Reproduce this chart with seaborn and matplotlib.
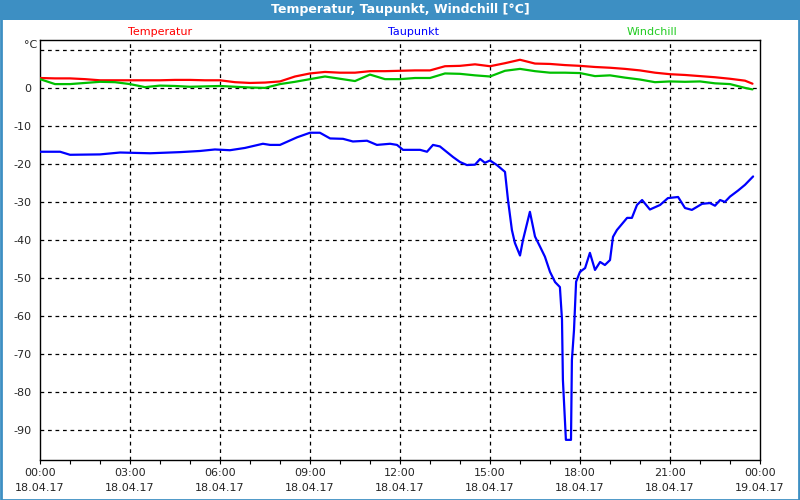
import numpy as np
import pandas as pd
import matplotlib
matplotlib.use("Agg")
import matplotlib.pyplot as plt
from matplotlib.patches import Rectangle
from matplotlib.ticker import MultipleLocator, FixedLocator
import seaborn as sns

# ---------------- data ----------------
title = "Temperatur, Taupunkt, Windchill [°C]"
series_names = ["Temperatur", "Taupunkt", "Windchill"]
series_colors = ["#ff0000", "#0000ff", "#00c000"]
legend_colors = ["#ff0000", "#0000ff", "#22cc22"]

# hours since 18.04.17 00:00 (half-hour readings, last at 23:45)
hours_tw = [0, 0.5, 1, 1.5, 2, 2.5, 3, 3.5, 4, 4.5, 5, 5.5, 6, 6.5, 7, 7.5,
            8, 8.5, 9, 9.5, 10, 10.5, 11, 11.5, 12, 12.5, 13, 13.5, 14, 14.5,
            15, 15.5, 16, 16.5, 17, 17.5, 18, 18.5, 19, 19.5, 20, 20.5, 21,
            21.5, 22, 22.5, 23, 23.5, 23.75]
temperatur = [2.6, 2.5, 2.5, 2.3, 2.0, 2.0, 2.0, 2.0, 2.0, 2.1, 2.1, 2.0, 2.0,
              1.5, 1.3, 1.4, 1.7, 3.0, 3.8, 4.2, 4.0, 4.0, 4.4, 4.4, 4.5, 4.6,
              4.6, 5.7, 5.8, 6.2, 5.7, 6.5, 7.4, 6.4, 6.3, 6.0, 5.8, 5.5, 5.3,
              5.0, 4.6, 4.0, 3.6, 3.4, 3.1, 2.8, 2.4, 1.9, 1.1]
windchill = [2.3, 1.0, 1.0, 1.3, 1.6, 1.5, 1.0, 0.2, 0.6, 0.5, 0.3, 0.4, 0.5,
             0.3, 0.1, 0.0, 1.0, 1.6, 2.3, 3.0, 2.4, 1.8, 3.5, 2.3, 2.3, 2.6,
             2.6, 3.8, 3.7, 3.3, 3.0, 4.5, 5.0, 4.4, 4.0, 4.0, 3.9, 3.1, 3.3,
             2.7, 2.2, 1.5, 1.7, 1.6, 1.7, 1.2, 1.0, 0.0, -0.4]

hours_tp = [0, 0.67, 1.0, 2.0, 2.67, 3.67, 4.67, 5.33, 5.83, 6.33, 6.83, 7.43,
            7.67, 8.0, 8.57, 9.0, 9.33, 9.67, 10.1, 10.43, 10.9, 11.23, 11.67,
            11.9, 12.1, 12.67, 12.9, 13.1, 13.33, 13.77, 14.0, 14.23, 14.5,
            14.67, 14.83, 15.0, 15.23, 15.5, 15.6, 15.73, 15.83, 16.0, 16.1,
            16.33, 16.5, 16.67, 16.83, 17.0, 17.17, 17.33, 17.4, 17.43, 17.53,
            17.7, 17.73, 17.8, 17.87, 18.0, 18.17, 18.33, 18.5, 18.67, 18.83,
            19.0, 19.1, 19.23, 19.57, 19.73, 19.9, 20.07, 20.33, 20.67, 20.93,
            21.27, 21.5, 21.73, 22.07, 22.33, 22.5, 22.67, 22.83, 23.0, 23.27,
            23.5, 23.77]
taupunkt = [-16.8, -16.8, -17.6, -17.5, -17.0, -17.2, -16.9, -16.6, -16.2,
            -16.4, -15.8, -14.7, -15.0, -15.0, -13.0, -11.8, -11.8, -13.3,
            -13.4, -14.1, -13.9, -15.0, -14.7, -15.0, -16.3, -16.3, -16.8,
            -15.0, -15.4, -18.2, -19.5, -20.3, -20.2, -18.7, -19.7, -19.1,
            -20.3, -22.1, -29.5, -37.4, -40.8, -44.1, -40.0, -32.6, -39.1,
            -41.8, -44.4, -48.4, -51.1, -52.4, -61.0, -76.8, -92.6, -92.6,
            -71.6, -63.7, -51.0, -48.4, -47.4, -43.4, -47.9, -45.8, -46.6,
            -45.3, -39.2, -37.4, -34.2, -34.2, -30.8, -29.5, -32.0, -30.8,
            -29.0, -28.7, -31.6, -32.1, -30.5, -30.3, -31.0, -29.5, -30.0,
            -28.6, -27.0, -25.5, -23.3]

x_tick_hours = [0, 3, 6, 9, 12, 15, 18, 21, 24]
x_tick_labels = ["00:00\n18.04.17", "03:00\n18.04.17", "06:00\n18.04.17",
                 "09:00\n18.04.17", "12:00\n18.04.17", "15:00\n18.04.17",
                 "18:00\n18.04.17", "21:00\n18.04.17", "00:00\n19.04.17"]
y_ticks = [0, -10, -20, -30, -40, -50, -60, -70, -80, -90]
y_grid = [10, 0, -10, -20, -30, -40, -50, -60, -70, -80, -90]

# ---------------- figure ----------------
sns.set_style("white")
plt.rcParams["font.family"] = ["DejaVu Sans"]

W, H = 800, 500
fig = plt.figure(figsize=(8, 5), dpi=100)
fig.patch.set_facecolor("#ffffff")

frame_blue = "#3d8fc3"
# title bar + window border
fig.patches.append(Rectangle((0, 1 - 20 / H), 1, 20 / H, transform=fig.transFigure,
                             facecolor=frame_blue, edgecolor="none", zorder=0))
fig.patches.append(Rectangle((0.5 / W, 0.5 / H), 1 - 1.5 / W, 1 - 1 / H,
                             transform=fig.transFigure, facecolor="none",
                             edgecolor=frame_blue, linewidth=2.0, zorder=0))
fig.text(0.5, 1 - 10 / H, title, ha="center", va="center", color="white",
         fontsize=9, fontweight="bold")

ax = fig.add_axes([40 / W, 40 / H, 720 / W, 420 / H])
ax.set_facecolor("#ffffff")

df_t = pd.DataFrame({"h": hours_tw, "v": temperatur})
df_w = pd.DataFrame({"h": hours_tw, "v": windchill})
df_p = pd.DataFrame({"h": hours_tp, "v": taupunkt})

sns.lineplot(data=df_t, x="h", y="v", ax=ax, color=series_colors[0], lw=1.6,
             estimator=None, sort=False, zorder=3)
sns.lineplot(data=df_p, x="h", y="v", ax=ax, color=series_colors[1], lw=1.6,
             estimator=None, sort=False, zorder=3)
sns.lineplot(data=df_w, x="h", y="v", ax=ax, color=series_colors[2], lw=1.6,
             estimator=None, sort=False, zorder=4)

ax.set_xlim(0, 24)
ax.set_ylim(-97.9, 12.6)
ax.set_xlabel("")
ax.set_ylabel("")

# grid lines
for g in y_grid:
    ax.axhline(g, color="black", lw=0.9, ls=(0, (3, 3)), zorder=1)
for h in x_tick_hours[1:-1]:
    ax.axvline(h, color="black", lw=0.9, ls=(0, (3, 3)), zorder=1)

ax.xaxis.set_major_locator(FixedLocator(x_tick_hours))
ax.xaxis.set_minor_locator(MultipleLocator(1))
ax.set_xticklabels(x_tick_labels, fontsize=8, linespacing=1.55)
ax.tick_params(axis="x", which="both", direction="out", length=3, width=0.8,
               color="black", pad=3, bottom=True)
ax.set_yticks(y_ticks)
ax.set_yticklabels([str(v) for v in y_ticks], fontsize=8)
ax.tick_params(axis="y", length=0, pad=6)

for sp in ax.spines.values():
    sp.set_color("black")
    sp.set_linewidth(1.0)

fig.text(37 / W, 1 - 45 / H, "°C", ha="right", va="center", fontsize=8)

legend_x = [160, 413, 652]
for name, col, xp in zip(series_names, legend_colors, legend_x):
    fig.text(xp / W, 1 - 32 / H, name, ha="center", va="center", color=col,
             fontsize=8)

fig.savefig("out.png", dpi=100, facecolor=fig.get_facecolor())
